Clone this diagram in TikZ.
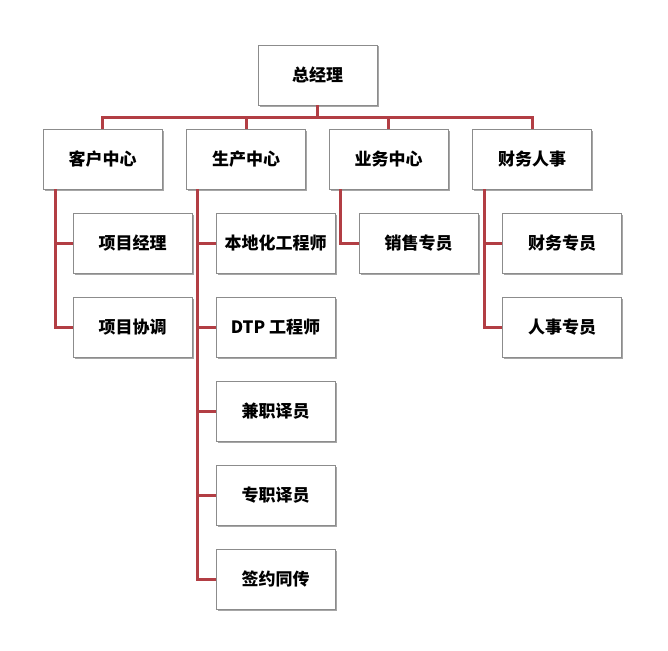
\documentclass[tikz,border=0pt]{standalone}
\usepackage{fontspec}
\setmainfont{Noto Sans CJK SC}
\usepackage{tikz}
\usetikzlibrary{shadows}

\definecolor{linered}{RGB}{178,62,68}
\definecolor{boxgray}{RGB}{140,140,140}

\tikzset{
  post/.style={draw=boxgray,line width=0.8pt,fill=white,
    minimum width=119pt,minimum height=60pt,inner sep=0pt,
    font=\fontsize{17}{20}\selectfont\bfseries,
    drop shadow={shadow xshift=1.5pt,shadow yshift=-1.5pt,fill=black,opacity=0.35}},
  link/.style={draw=linered,line width=3pt}
}

\begin{document}
\begin{tikzpicture}[x=1pt,y=-1pt]

  \useasboundingbox (0,0) rectangle (668,650);

  \node[post] (top) at (317.5,75) {总经理};

  \node[post] (kh) at (102.5,159) {客户中心};
  \node[post] (sc) at (246,159)   {生产中心};
  \node[post] (yw) at (388.5,159) {业务中心};
  \node[post] (cw) at (532,159)   {财务人事};

  \node[post] (kh1) at (132.5,243) {项目经理};
  \node[post] (kh2) at (132.5,327) {项目协调};

  \node[post] (sc1) at (275.5,243) {本地化工程师};
  \node[post] (sc2) at (275.5,327) {DTP 工程师};
  \node[post] (sc3) at (275.5,411) {兼职译员};
  \node[post] (sc4) at (275.5,495) {专职译员};
  \node[post] (sc5) at (275.5,579) {签约同传};

  \node[post] (yw1) at (418.5,243) {销售专员};

  \node[post] (cw1) at (562,243) {财务专员};
  \node[post] (cw2) at (562,327) {人事专员};

  \coordinate (bus) at (317.5,117);
  \draw[link] (top.south) -- (bus);
  \foreach \n in {kh,sc,yw,cw}
    \draw[link] (bus) -| (\n.north);

  \draw[link] ([xshift=13pt]kh.south west) |- (kh2.west);
  \draw[link] ([xshift=13pt]kh.south west) |- (kh1.west);

  \draw[link] ([xshift=11pt]sc.south west) |- (sc5.west);
  \foreach \n in {sc1,sc2,sc3,sc4}
    \draw[link] ([xshift=11pt]sc.south west) |- (\n.west);

  \draw[link] ([xshift=12pt]yw.south west) |- (yw1.west);

  \draw[link] ([xshift=12pt]cw.south west) |- (cw2.west);
  \draw[link] ([xshift=12pt]cw.south west) |- (cw1.west);

\end{tikzpicture}
\end{document}
